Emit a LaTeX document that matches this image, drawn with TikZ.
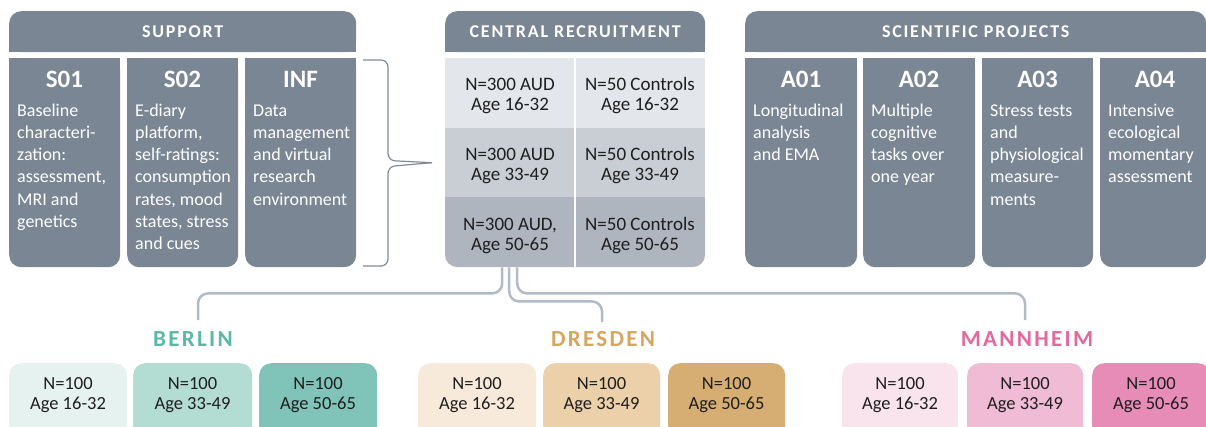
\documentclass[tikz,border=0pt]{standalone}
\usepackage{fontspec}
\setmainfont{Carlito}
\newfontfamily\spacedfont[LetterSpace=10]{Carlito}
\definecolor{slate}{HTML}{7B8694}
\definecolor{rowa}{HTML}{E3E6EA}
\definecolor{rowb}{HTML}{C9CED5}
\definecolor{rowc}{HTML}{AFB5BF}
\definecolor{brk}{HTML}{7F8B99}
\definecolor{wirec}{HTML}{B2BAC6}
\definecolor{beC}{HTML}{5BB7A7}
\definecolor{beA}{HTML}{E5F2EF}
\definecolor{beB}{HTML}{B3DCD3}
\definecolor{beD}{HTML}{80C3B8}
\definecolor{drC}{HTML}{D6A55E}
\definecolor{drA}{HTML}{F7EADB}
\definecolor{drB}{HTML}{EBD0A9}
\definecolor{drD}{HTML}{D6AE73}
\definecolor{maC}{HTML}{E1699F}
\definecolor{maA}{HTML}{F9E4EE}
\definecolor{maB}{HTML}{F0BCD5}
\definecolor{maD}{HTML}{E78CB7}
\definecolor{txt}{HTML}{1E1E1E}
\begin{document}
\begin{tikzpicture}[x=1pt,y=-1pt,
  hdr/.style={fill=slate, rounded corners=12pt, text=white, inner sep=0pt, anchor=north west, minimum height=41pt, font=\spacedfont\bfseries\fontsize{18}{20}\selectfont},
  gbox/.style={fill=slate, rounded corners=12pt, inner sep=0pt, anchor=north west, minimum height=209pt},
  ttl/.style={text=white, anchor=base, inner sep=0pt, font=\bfseries\fontsize{25}{28}\selectfont},
  desc/.style={text=white, anchor=north west, inner sep=0pt, align=left, font=\fontsize{18}{22.2}\selectfont},
  cell/.style={text=txt, align=center, inner sep=0pt, font=\fontsize{19}{20}\selectfont},
  city/.style={inner sep=0pt, font=\spacedfont\bfseries\fontsize{23}{25}\selectfont},
  cbox/.style={rounded corners=12pt, inner sep=0pt, anchor=north west, minimum height=75pt},
  ctext/.style={align=center, inner sep=0pt, text=txt, font=\fontsize{18.5}{19.5}\selectfont},
  wire/.style={draw=wirec, line width=2.5pt, rounded corners=10pt},
  brace/.style={draw=brk, line width=1.2pt, rounded corners=7pt}
]
\useasboundingbox (0,0) rectangle (1206,426);
\clip (0,0) rectangle (1206,426);

% ---------- SUPPORT ----------
\fill[slate] (9,32) rectangle (356,52);
\node[hdr, minimum width=347pt] (sup) at (9,11) {SUPPORT};

\fill[slate] (9,58) rectangle (120,100);
\node[gbox, minimum width=111pt] (s01) at (9,58) {};
\node[ttl] (s01t) at (64.5,87) {S01};
\node[desc] (s01d) at (17,100.5) {\strut Baseline\\characteri-\\zation:\\assessment,\\MRI and\\genetics};

\fill[slate] (127,58) rectangle (238,100);
\node[gbox, minimum width=111pt] (s02) at (127,58) {};
\node[ttl] (s02t) at (182.5,87) {S02};
\node[desc] (s02d) at (135,100.5) {\strut E-diary\\platform,\\self-ratings:\\consumption\\rates, mood\\states, stress\\and cues};

\fill[slate] (245,58) rectangle (356,100);
\node[gbox, minimum width=111pt] (inf) at (245,58) {};
\node[ttl] (inft) at (300.5,87) {INF};
\node[desc] (infd) at (253,100.5) {\strut Data\\management\\and virtual\\research\\environment};

% ---------- CENTRAL RECRUITMENT ----------
\fill[slate] (445,32) rectangle (705,52);
\node[hdr, minimum width=260pt] (cen) at (445,11) {CENTRAL RECRUITMENT};
\node[inner sep=0pt, minimum width=260pt, minimum height=209pt, anchor=north west] (ctab) at (445,58) {};
\fill[rowa] (445,58) rectangle (705,127.5);
\fill[rowb] (445,127.5) rectangle (705,197);
\fill[rowc] (445,197) rectangle (705,240);
\fill[rowc, rounded corners=12pt] (445,197) rectangle (705,267);
\draw[white, line width=2pt] (575,58) -- (575,267);
\node[cell] (c11) at (510,96) {N=300 AUD\\Age 16-32};
\node[cell] (c12) at (640,96) {N=50 Controls\\Age 16-32};
\node[cell] (c21) at (510,166) {N=300 AUD\\Age 33-49};
\node[cell] (c22) at (640,166) {N=50 Controls\\Age 33-49};
\node[cell] (c31) at (510,236) {N=300 AUD,\\Age 50-65};
\node[cell] (c32) at (640,236) {N=50 Controls\\Age 50-65};

% ---------- SCIENTIFIC PROJECTS ----------
\fill[slate] (745,32) rectangle (1206,52);
\node[hdr, minimum width=461pt] (sci) at (745,11) {SCIENTIFIC PROJECTS};

\fill[slate] (745,58) rectangle (857,100);
\node[gbox, minimum width=112pt] (a01) at (745,58) {};
\node[ttl] (a01t) at (801,87) {A01};
\node[desc] (a01d) at (753,100.5) {\strut Longitudinal\\analysis\\and EMA};

\fill[slate] (863,58) rectangle (975,100);
\node[gbox, minimum width=112pt] (a02) at (863,58) {};
\node[ttl] (a02t) at (919,87) {A02};
\node[desc] (a02d) at (871,100.5) {\strut Multiple\\cognitive\\tasks over\\one year};

\fill[slate] (982,58) rectangle (1093,100);
\node[gbox, minimum width=111pt] (a03) at (982,58) {};
\node[ttl] (a03t) at (1037.5,87) {A03};
\node[desc] (a03d) at (990,100.5) {\strut Stress tests\\and\\physiological\\measure-\\ments};

\fill[slate] (1100,58) rectangle (1206,100);
\node[gbox, minimum width=106pt] (a04) at (1100,58) {};
\node[ttl] (a04t) at (1155,87) {A04};
\node[desc] (a04d) at (1108,100.5) {\strut Intensive\\ecological\\momentary\\assessment};

% ---------- bracket ----------
\coordinate (tip) at ([xshift=-13pt]ctab.west);
\draw[brace] (363,60) -- (388,60) -- (388,160.5) -- (tip);
\draw[brace] (tip) -- (388,166.5) -- (388,266) -- (363,266);

% ---------- cities ----------
\node[city, text=beC] (ber) at (193,339) {BERLIN};
\node[city, text=drC] (dre) at (603,339) {DRESDEN};
\node[city, text=maC] (man) at (1027,339) {MANNHEIM};

\coordinate (ctA) at ([xshift=-73pt]ctab.south);
\coordinate (ctB) at ([xshift=-66pt]ctab.south);
\coordinate (ctC) at ([xshift=-58pt]ctab.south);
\coordinate (berT) at (198,320);
\coordinate (dreT) at (602,322);
\coordinate (manT) at (1025,320);
\draw[wire] (ctA) -- ++(0,26) -| (berT);
\draw[wire] (ctB) -- ++(0,34) -| (dreT);
\draw[wire] (ctC) -- ++(0,26) -| (manT);

% ---------- city boxes ----------
\node[cbox, fill=beA, minimum width=118pt] (b1) at (9,363) {};
\node[cbox, fill=beB, minimum width=119pt] (b2) at (133,363) {};
\node[cbox, fill=beD, minimum width=118pt] (b3) at (259,363) {};
\node[ctext] (b1t) at (68,395) {N=100\\Age 16-32};
\node[ctext] (b2t) at (192.5,395) {N=100\\Age 33-49};
\node[ctext] (b3t) at (318,395) {N=100\\Age 50-65};

\node[cbox, fill=drA, minimum width=118pt] (d1) at (418,363) {};
\node[cbox, fill=drB, minimum width=117pt] (d2) at (543,363) {};
\node[cbox, fill=drD, minimum width=117pt] (d3) at (668,363) {};
\node[ctext] (d1t) at (477,395) {N=100\\Age 16-32};
\node[ctext] (d2t) at (601.5,395) {N=100\\Age 33-49};
\node[ctext] (d3t) at (726.5,395) {N=100\\Age 50-65};

\node[cbox, fill=maA, minimum width=116pt] (m1) at (842,363) {};
\node[cbox, fill=maB, minimum width=116pt] (m2) at (967,363) {};
\node[cbox, fill=maD, minimum width=118pt] (m3) at (1092,363) {};
\node[ctext] (m1t) at (900,395) {N=100\\Age 16-32};
\node[ctext] (m2t) at (1025,395) {N=100\\Age 33-49};
\node[ctext] (m3t) at (1151,395) {N=100\\Age 50-65};
\end{tikzpicture}
\end{document}
